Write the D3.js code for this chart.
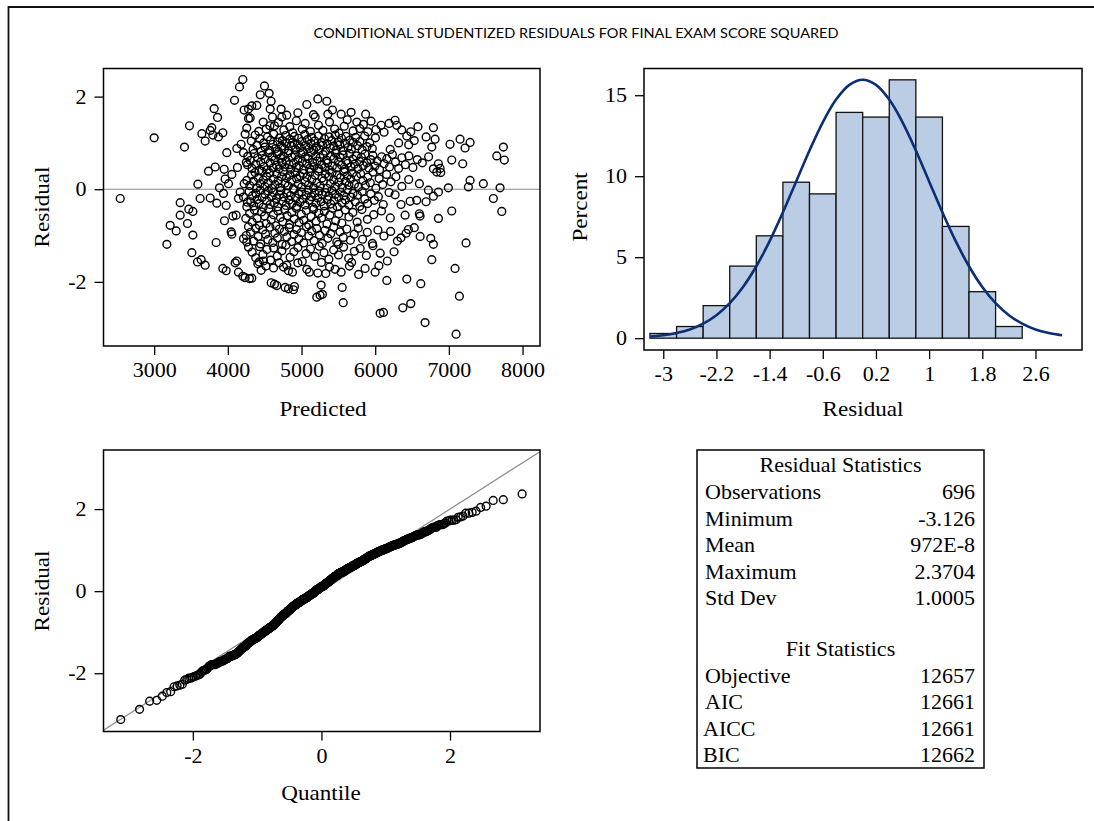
<!DOCTYPE html>
<html>
<head>
<meta charset="utf-8">
<script src="https://cdn.jsdelivr.net/npm/d3@7"></script>
<style>
  body { margin: 0; background: #fff; }
  text { font-family: "Liberation Serif", "Times New Roman", serif; fill: #000; }
</style>
</head>
<body>
<svg width="1094" height="821"></svg>
<script>
// ---- residual statistics table ----
var resLabels = ["Observations", "Minimum", "Mean", "Maximum", "Std Dev"];
var resValues = ["696", "-3.126", "972E-8", "2.3704", "1.0005"];
var fitLabels = ["Objective", "AIC", "AICC", "BIC"];
var fitValues = ["12657", "12661", "12661", "12662"];

// ---- histogram (bin width 0.4) ----
var binStart = [-3.2, -2.8, -2.4, -2.0, -1.6, -1.2, -0.8, -0.4, 0.0, 0.4, 0.8, 1.2, 1.6, 2.0];
var binPct = [0.29, 0.72, 2.01, 4.45, 6.32, 9.63, 8.91, 13.94, 13.65, 15.95, 13.65, 6.90, 2.87, 0.72];
var histTicks = [-3, -2.2, -1.4, -0.6, 0.2, 1, 1.8, 2.6];

// normal density curve (percent)
var curveX = [-3.2, -3.0, -2.8, -2.6, -2.4, -2.2, -2.0, -1.8, -1.6, -1.4, -1.2, -1.0, -0.8, -0.6, -0.4, -0.2, 0.0,
              0.2, 0.4, 0.6, 0.8, 1.0, 1.2, 1.4, 1.6, 1.8, 2.0, 2.2, 2.4, 2.6, 2.8, 3.0];
var curvePct = [0.10, 0.18, 0.32, 0.54, 0.90, 1.42, 2.16, 3.16, 4.44, 5.99, 7.77, 9.68, 11.59, 13.33, 14.73, 15.64, 15.96,
                15.64, 14.73, 13.33, 11.59, 9.68, 7.77, 5.99, 4.44, 3.16, 2.16, 1.42, 0.90, 0.54, 0.32, 0.18];

// ---- residual vs predicted, grouped by residual band ----
var band_2p0 = [[4203,2.37],[4158,2.21],[4497,2.23],[4560,2.07],[4440,2.04]];
var band_1p6 = [[4090,1.92],[3814,1.74],[4221,1.71],[4325,1.80],[4393,1.81],[4280,1.73],[4588,1.90],[4574,1.73],[4723,1.73],[5072,1.83],
  [5221,1.95],[5343,1.90],[5162,1.61],[5357,1.62],[5420,1.71],[5538,1.62],[5673,1.66],[4800,1.60],[4950,1.65],[5870,1.62]];
var band_1p2 = [[3860,1.55],[4280,1.53],[3479,1.37],[3782,1.33],[3760,1.27],[3932,1.22],[4257,1.32],[4605,1.56],[4633,1.37],[4303,1.54],
  [4570,1.37],[4687,1.44],[4732,1.56],[5185,1.56],[5750,1.45],[5840,1.40],[5944,1.47],[6080,1.38],[6189,1.42],[6270,1.49],
  [6293,1.38],[6790,1.33],[6483,1.24],[3647,1.20],[4420,1.25],[4480,1.45],[4520,1.30],[4760,1.28],[4840,1.35],[4880,1.22],
  [4930,1.48],[5010,1.30],[5050,1.42],[5120,1.25],[5230,1.38],[5290,1.27],[5380,1.45],[5450,1.30],[5510,1.21],[5580,1.36],
  [5620,1.50],[5700,1.26],[5790,1.31],[5900,1.24],[6010,1.29],[6120,1.23],[6360,1.28],[6580,1.35]];
var band_0p8 = [[3000,1.11],[3692,1.04],[3796,1.17],[3873,1.13],[4235,1.19],[4180,0.97],[4122,0.88],[3411,0.91],[6691,1.13],[6813,1.08],
  [6768,0.91],[7016,0.97],[7152,1.08],[7220,0.89],[7288,1.01],[7740,0.91],[6429,1.15],
  [4318,1.04],[4342,0.86],[4371,1.17],[4395,0.95],[4433,1.09],[4451,0.82],[4487,1.00],[4502,0.91],[4538,1.13],[4566,0.84],
  [4579,1.06],[4611,0.97],[4622,1.19],[4649,0.88],[4676,1.02],[4688,0.81],[4703,1.11],[4729,0.93],[4741,1.05],[4768,0.87],
  [4785,1.16],[4797,0.99],[4826,0.83],[4838,1.08],[4861,0.94],[4879,1.01],[4902,1.14],[4917,0.86],[4944,0.97],[4961,1.10],
  [4983,0.90],[5006,1.03],[5019,0.81],[5044,1.18],[5058,0.95],[5081,1.07],[5103,0.88],[5126,0.99],[5139,1.12],[5167,0.84],
  [5181,1.04],[5204,0.92],[5229,1.15],[5242,0.86],[5268,1.01],[5286,0.95],[5311,1.09],[5327,0.82],[5349,0.98],[5374,1.13],
  [5391,0.89],[5412,1.05],[5436,0.93],[5458,1.17],[5471,0.85],[5497,1.02],[5519,0.96],[5542,1.10],[5563,0.83],[5587,0.99],
  [5604,1.14],[5631,0.90],[5655,1.06],[5678,0.87],[5702,1.01],[5734,1.12],[5761,0.94],[5792,1.03],[5823,0.85],[5857,1.15],
  [5889,0.92],[5926,1.00],[5961,0.88],[6003,1.11],[6455,0.96],[6530,1.05],[6204,0.86],[6318,1.00]];
var band_0p4 = [[4212,0.79],[3986,0.79],[4266,0.53],[4130,0.47],[3828,0.48],[3950,0.43],[7039,0.63],[7188,0.55],[6858,0.55],[6881,0.45],
  [7650,0.72],[7753,0.63],
  [4305,0.62],[4328,0.45],[4356,0.77],[4379,0.54],[4404,0.68],[4425,0.41],[4447,0.59],[4468,0.73],[4490,0.49],[4509,0.65],
  [4533,0.42],[4551,0.79],[4574,0.57],[4596,0.70],[4613,0.46],[4637,0.63],[4659,0.52],[4671,0.76],[4695,0.44],[4718,0.67],
  [4736,0.58],[4752,0.71],[4774,0.48],[4793,0.61],[4815,0.78],[4832,0.53],[4854,0.43],[4870,0.69],[4893,0.56],[4911,0.74],
  [4929,0.47],[4951,0.64],[4968,0.51],[4990,0.77],[5011,0.60],[5028,0.42],[5052,0.70],[5070,0.55],[5091,0.66],[5110,0.45],
  [5131,0.79],[5150,0.58],[5172,0.49],[5193,0.72],[5211,0.61],[5235,0.44],[5252,0.68],[5274,0.53],[5293,0.75],[5316,0.47],
  [5335,0.63],[5356,0.57],[5378,0.41],[5395,0.71],[5419,0.50],[5440,0.66],[5461,0.78],[5479,0.46],[5502,0.59],[5524,0.69],
  [5545,0.52],[5566,0.74],[5589,0.43],[5608,0.62],[5630,0.56],[5653,0.77],[5671,0.48],[5697,0.65],[5718,0.54],[5742,0.72],
  [5765,0.44],[5789,0.60],[5812,0.69],[5838,0.51],[5861,0.76],[5887,0.57],[5914,0.46],[5940,0.64],[5969,0.73],[5996,0.50],
  [6027,0.61],[6059,0.42],[6088,0.70],[6121,0.55],[6158,0.66],[6194,0.48],[6233,0.75],[6275,0.59],[6318,0.45],[6362,0.68],
  [6410,0.53],[6457,0.72],[6512,0.47],[6571,0.64],[6640,0.57],[6725,0.70],[6790,0.44],[4270,0.71],[4251,0.58]];
var band_0p0 = [[4054,0.32],[3963,0.22],[3737,0.39],[3593,0.11],[3886,0.03],[4009,0.12],[4221,0.12],[4257,0.19],[6890,0.36],[6836,0.37],
  [7288,0.19],[7265,0.05],[7468,0.12],[7695,0.03],[6993,0.03],[6600,0.12],
  [4298,0.08],[4322,0.31],[4347,0.17],[4369,0.36],[4391,0.03],[4414,0.24],[4438,0.12],[4459,0.39],[4481,0.20],[4503,0.06],
  [4526,0.28],[4549,0.14],[4570,0.35],[4594,0.02],[4617,0.22],[4640,0.10],[4662,0.33],[4684,0.18],[4707,0.04],[4729,0.27],
  [4752,0.38],[4775,0.13],[4797,0.25],[4820,0.07],[4843,0.31],[4866,0.19],[4888,0.01],[4911,0.36],[4934,0.23],[4957,0.11],
  [4980,0.29],[5003,0.05],[5025,0.34],[5048,0.16],[5071,0.26],[5094,0.09],[5117,0.37],[5140,0.21],[5162,0.03],[5185,0.30],
  [5208,0.14],[5231,0.39],[5254,0.07],[5277,0.24],[5300,0.18],[5322,0.33],[5345,0.02],[5368,0.27],[5391,0.12],[5414,0.36],
  [5437,0.20],[5460,0.06],[5483,0.31],[5506,0.15],[5529,0.25],[5552,0.04],[5575,0.38],[5598,0.17],[5621,0.29],[5644,0.09],
  [5668,0.22],[5693,0.35],[5719,0.11],[5746,0.28],[5774,0.05],[5803,0.33],[5833,0.19],[5865,0.08],[5898,0.26],[5933,0.14],
  [5970,0.37],[6010,0.02],[6054,0.23],[6102,0.10],[6155,0.32],[6214,0.16],[6281,0.27],[6362,0.06],[6455,0.21]];
var band_m0p4 = [[2539,-0.20],[3353,-0.29],[3624,-0.20],[3760,-0.19],[3850,-0.30],[3941,-0.09],[4167,-0.06],[4212,-0.17],[4144,-0.20],[3977,-0.35],
  [4257,-0.38],[6858,-0.06],[6722,-0.02],[6474,-0.26],[6564,-0.24],[6691,-0.27],[6790,-0.15],[7604,-0.20],
  [4289,-0.05],[4311,-0.27],[4336,-0.14],[4352,-0.36],[4380,-0.09],[4397,-0.22],[4423,-0.31],[4440,-0.02],[4466,-0.18],[4479,-0.39],
  [4505,-0.11],[4527,-0.25],[4548,-0.04],[4575,-0.33],[4590,-0.16],[4618,-0.07],[4633,-0.29],[4661,-0.20],[4675,-0.38],[4701,-0.12],
  [4719,-0.03],[4746,-0.26],[4760,-0.17],[4789,-0.35],[4805,-0.08],[4831,-0.23],[4849,-0.14],[4874,-0.31],[4895,-0.01],[4917,-0.19],
  [4938,-0.37],[4962,-0.10],[4979,-0.28],[5004,-0.06],[5022,-0.21],[5049,-0.34],[5063,-0.13],[5092,-0.02],[5108,-0.24],[5134,-0.16],
  [5151,-0.39],[5177,-0.08],[5195,-0.30],[5220,-0.19],[5238,-0.04],[5265,-0.27],[5281,-0.12],[5308,-0.36],[5326,-0.07],[5351,-0.22],
  [5369,-0.15],[5396,-0.32],[5413,-0.03],[5440,-0.25],[5458,-0.11],[5485,-0.38],[5503,-0.18],[5529,-0.06],[5550,-0.29],[5574,-0.14],
  [5596,-0.23],[5621,-0.01],[5645,-0.34],[5672,-0.17],[5699,-0.09],[5729,-0.27],[5758,-0.13],[5790,-0.37],[5823,-0.05],[5858,-0.21],
  [5897,-0.31],[5940,-0.10],[5988,-0.24],[6043,-0.16],[6109,-0.33],[6188,-0.07],[6270,-0.12],[4265,-0.28],[6350,-0.33]];
var band_m0p8 = [[3470,-0.43],[3525,-0.48],[3353,-0.56],[3217,-0.78],[3452,-0.74],[3954,-0.68],[4068,-0.58],[4113,-0.56],[4244,-0.63],[7039,-0.47],
  [7718,-0.48],[6600,-0.53],[6609,-0.58],[6406,-0.56],[6858,-0.63],
  [4296,-0.52],[4330,-0.71],[4361,-0.45],[4398,-0.63],[4429,-0.78],[4458,-0.49],[4497,-0.58],[4521,-0.74],[4556,-0.42],[4588,-0.66],
  [4619,-0.55],[4652,-0.79],[4680,-0.47],[4713,-0.61],[4745,-0.70],[4771,-0.44],[4806,-0.57],[4838,-0.76],[4867,-0.50],[4901,-0.64],
  [4930,-0.41],[4966,-0.72],[4997,-0.54],[5031,-0.67],[5064,-0.46],[5098,-0.77],[5129,-0.59],[5165,-0.43],[5199,-0.69],[5236,-0.52],
  [5271,-0.62],[5309,-0.48],[5345,-0.75],[5384,-0.56],[5422,-0.41],[5463,-0.68],[5505,-0.53],[5548,-0.73],[5594,-0.45],[5643,-0.60],
  [5697,-0.50],[5755,-0.71],[5820,-0.44],[5894,-0.65],[5980,-0.55],[6085,-0.47],[6205,-0.62]];
var band_m1p2 = [[3299,-0.90],[3172,-1.19],[3525,-0.99],[3841,-1.15],[4045,-0.92],[4054,-0.97],[4212,-1.07],[4257,-1.14],[4280,-0.81],[7233,-1.16],
  [6754,-1.06],[6790,-1.19],[6301,-1.12],[6451,-0.87],
  [4308,-0.93],[4349,-1.12],[4377,-0.84],[4412,-1.02],[4446,-1.18],[4474,-0.88],[4511,-0.97],[4543,-1.09],[4572,-0.82],[4609,-1.15],
  [4638,-0.95],[4672,-1.05],[4700,-0.86],[4737,-1.19],[4766,-0.91],[4801,-1.03],[4833,-0.83],[4866,-1.13],[4897,-0.98],[4932,-0.87],
  [4963,-1.07],[4998,-0.94],[5030,-1.16],[5066,-0.81],[5099,-1.01],[5136,-0.90],[5170,-1.11],[5207,-0.85],[5243,-0.99],[5281,-1.17],
  [5318,-0.89],[5357,-1.06],[5396,-0.96],[5437,-0.82],[5479,-1.14],[5522,-0.92],[5567,-1.04],[5614,-0.86],[5663,-1.10],[5715,-0.97],
  [5770,-0.84],[5829,-1.08],[5893,-0.93],[5962,-1.17],[6037,-0.88],[6118,-1.01],[6210,-0.91],[6350,-1.05],[6420,-0.95],[6530,-0.83],
  [6610,-1.02],[5500,-1.19],[4250,-1.00]];
var band_m1p6 = [[4280,-1.25],[3511,-1.37],[3588,-1.57],[3638,-1.52],[4122,-1.55],[4099,-1.59],[4425,-1.57],[4484,-1.55],[4696,-1.59],[6768,-1.52],
  [6256,-1.35],
  [4330,-1.36],[4378,-1.48],[4431,-1.24],[4476,-1.41],[4530,-1.30],[4579,-1.53],[4622,-1.27],[4671,-1.44],[4733,-1.33],[4788,-1.21],
  [4845,-1.47],[4896,-1.35],[4951,-1.26],[5010,-1.56],[5062,-1.39],[5121,-1.29],[5183,-1.45],[5240,-1.23],[5305,-1.37],[5371,-1.51],
  [5436,-1.31],[5502,-1.42],[5571,-1.25],[5640,-1.49],[5717,-1.34],[5796,-1.28],[5880,-1.43],[5969,-1.22],[6068,-1.38],[6165,-1.55],
  [5270,-1.58],[4950,-1.59],[5680,-1.58]];
var band_m2p0 = [[3692,-1.64],[3932,-1.71],[3977,-1.76],[4144,-1.79],[4203,-1.88],[4293,-1.93],[4325,-1.92],[4235,-1.91],[4452,-1.75],[4407,-1.61],
  [4516,-1.66],[4755,-1.68],[4800,-1.64],[4823,-1.76],[4877,-1.79],[5072,-1.73],[5107,-1.79],[5221,-1.81],[5329,-1.82],[5456,-1.73],
  [5538,-1.79],[5775,-1.84],[5863,-1.71],[5999,-1.79],[6158,-1.97],[6429,-1.94],[7084,-1.71],[5650,-1.66],[6050,-1.65],[4620,-1.70],
  [5380,-1.68]];
var band_m2p4 = [[4588,-2.02],[4633,-2.05],[4665,-2.08],[4777,-2.12],[4823,-2.15],[4890,-2.17],[4904,-2.10],[5207,-2.33],[5252,-2.29],[5284,-2.27],
  [5266,-2.07],[5552,-2.12],[6619,-2.04],[7143,-2.31]];
var band_m2p8 = [[5566,-2.45],[6067,-2.68],[6112,-2.66],[6375,-2.56],[6483,-2.47]];
var band_m3p2 = [[6677,-2.88],[7098,-3.13]];

var scatterXTicks = [3000, 4000, 5000, 6000, 7000, 8000];
var residTicks = [-2, 0, 2];
var quantTicks = [-2, 0, 2];
var pctTicks = [0, 5, 10, 15];

var points = [].concat(band_2p0, band_1p6, band_1p2, band_0p8, band_0p4, band_0p0,
  band_m0p4, band_m0p8, band_m1p2, band_m1p6, band_m2p0, band_m2p4, band_m2p8, band_m3p2);

var svg = d3.select("svg");
var SX = 1.1; // the original text is slightly wide
var dotR = 3.9;

// inverse normal cdf (Acklam) for the Q-Q plot quantiles
function invNorm(p) {
  var a = [-3.969683028665376e+01, 2.209460984245205e+02, -2.759285104469687e+02, 1.383577518672690e+02, -3.066479806614716e+01, 2.506628277459239e+00];
  var b = [-5.447609879822406e+01, 1.615858368580409e+02, -1.556989798598866e+02, 6.680131188771972e+01, -1.328068155288572e+01];
  var c = [-7.784894002430293e-03, -3.223964580411365e-01, -2.400758277161838e+00, -2.549732539343734e+00, 4.374664141464968e+00, 2.938163982698783e+00];
  var d = [7.784695709041462e-03, 3.224671290700398e-01, 2.445134137142996e+00, 3.754408661907416e+00];
  var q, r;
  if (p < 0.02425) {
    q = Math.sqrt(-2 * Math.log(p));
    return (((((c[0]*q+c[1])*q+c[2])*q+c[3])*q+c[4])*q+c[5]) / ((((d[0]*q+d[1])*q+d[2])*q+d[3])*q+1);
  }
  if (p > 1 - 0.02425) {
    q = Math.sqrt(-2 * Math.log(1 - p));
    return -(((((c[0]*q+c[1])*q+c[2])*q+c[3])*q+c[4])*q+c[5]) / ((((d[0]*q+d[1])*q+d[2])*q+d[3])*q+1);
  }
  q = p - 0.5; r = q * q;
  return (((((a[0]*r+a[1])*r+a[2])*r+a[3])*r+a[4])*r+a[5])*q / (((((b[0]*r+b[1])*r+b[2])*r+b[3])*r+b[4])*r+1);
}

function styleAxis(g, left) {
  g.select(".domain").remove();
  g.selectAll(".tick line").attr("stroke", "#000").attr("stroke-width", 1.3);
  var t = g.selectAll(".tick text")
    .attr("font-family", "'Liberation Serif', 'Times New Roman', serif")
    .attr("font-size", 20)
    .attr("fill", "#000")
    .attr("transform", "scale(" + SX + ",1)");
  if (left) t.attr("x", -17 / SX);
  g.attr("font-family", null).attr("font-size", null);
}

function frame(b) {
  svg.append("rect")
    .attr("x", b.left).attr("y", b.top)
    .attr("width", b.right - b.left).attr("height", b.bottom - b.top)
    .attr("fill", "none").attr("stroke", "#000").attr("stroke-width", 1.5);
}

function label(x, y, txt, size, anchor, rotate) {
  svg.append("text")
    .attr("transform", "translate(" + x + "," + y + ")" + (rotate ? " rotate(-90)" : "") + " scale(" + SX + ",1)")
    .attr("text-anchor", anchor || "start")
    .attr("font-size", size)
    .text(txt);
}

// page frame
svg.append("line").attr("x1", 8).attr("x2", 1094).attr("y1", 7).attr("y2", 7)
  .attr("stroke", "#111").attr("stroke-width", 1.8);
svg.append("line").attr("x1", 8.5).attr("x2", 8.5).attr("y1", 6).attr("y2", 821)
  .attr("stroke", "#111").attr("stroke-width", 1.8);

svg.append("text")
  .attr("x", 576).attr("y", 38)
  .attr("text-anchor", "middle")
  .style("font-family", "Lato, 'Open Sans', sans-serif")
  .attr("font-size", 13)
  .attr("textLength", 525)
  .attr("lengthAdjust", "spacingAndGlyphs")
  .text("CONDITIONAL STUDENTIZED RESIDUALS FOR FINAL EXAM SCORE SQUARED");

// ---- panel 1: residual vs predicted ----
var p1 = {left: 103.5, right: 540, top: 68.5, bottom: 346};
var x1 = d3.scaleLinear().domain([2312, 8237]).range([p1.left, p1.right]);
var y1 = d3.scaleLinear().domain([-3.385, 2.607]).range([p1.bottom, p1.top]);

svg.append("line")
  .attr("x1", p1.left).attr("x2", p1.right)
  .attr("y1", y1(0)).attr("y2", y1(0))
  .attr("stroke", "#8a8a8a").attr("stroke-width", 1.2);

svg.append("g").selectAll("circle")
  .data(points)
  .enter().append("circle")
    .attr("cx", function(d) { return x1(d[0]); })
    .attr("cy", function(d) { return y1(d[1]); })
    .attr("r", dotR)
    .attr("fill", "none").attr("stroke", "#000").attr("stroke-width", 1.4);

frame(p1);
svg.append("g").attr("transform", "translate(0," + p1.bottom + ")")
  .call(d3.axisBottom(x1).tickValues(scatterXTicks).tickSize(9).tickPadding(8).tickFormat(String))
  .call(styleAxis, false);
svg.append("g").attr("transform", "translate(" + p1.left + ",0)")
  .call(d3.axisLeft(y1).tickValues(residTicks).tickSize(9).tickPadding(8).tickFormat(String))
  .call(styleAxis, true);
label(323, 416, "Predicted", 21, "middle");
label(49, 207, "Residual", 21, "middle", true);

// ---- panel 2: histogram ----
var p2 = {left: 644, right: 1082, top: 68.5, bottom: 350};
var x2 = d3.scaleLinear().domain([-3.29, 3.30]).range([p2.left, p2.right]);
var y2 = d3.scaleLinear().domain([-0.73, 16.65]).range([p2.bottom, p2.top]);

svg.append("g").selectAll("rect")
  .data(binPct)
  .enter().append("rect")
    .attr("x", function(d, i) { return x2(binStart[i]); })
    .attr("width", function(d, i) { return x2(binStart[i] + 0.4) - x2(binStart[i]); })
    .attr("y", function(d) { return y2(d); })
    .attr("height", function(d) { return y2(0) - y2(d); })
    .attr("fill", "#bacde4").attr("stroke", "#111").attr("stroke-width", 1.3);

var curve = d3.line()
  .x(function(d, i) { return x2(curveX[i]); })
  .y(function(d) { return y2(d); })
  .curve(d3.curveCatmullRom);
svg.append("path")
  .attr("d", curve(curvePct))
  .attr("fill", "none").attr("stroke", "#0c2e74").attr("stroke-width", 2.6);

frame(p2);
svg.append("g").attr("transform", "translate(0," + p2.bottom + ")")
  .call(d3.axisBottom(x2).tickValues(histTicks).tickSize(9).tickPadding(8).tickFormat(String))
  .call(styleAxis, false);
svg.append("g").attr("transform", "translate(" + p2.left + ",0)")
  .call(d3.axisLeft(y2).tickValues(pctTicks).tickSize(9).tickPadding(8).tickFormat(String))
  .call(styleAxis, true);
label(863, 416, "Residual", 21, "middle");
label(587, 207, "Percent", 21, "middle", true);

// ---- panel 3: Q-Q plot ----
var p3 = {left: 103.5, right: 540, top: 450, bottom: 731.5};
var x3 = d3.scaleLinear().domain([-3.39, 3.40]).range([p3.left, p3.right]);
var y3 = d3.scaleLinear().domain([-3.42, 3.44]).range([p3.bottom, p3.top]);

var sorted = points.map(function(d) { return d[1]; }).sort(d3.ascending);
var n = sorted.length;
var qq = sorted.map(function(v, i) { return [invNorm((i + 1 - 0.375) / (n + 0.25)), v]; });

svg.append("line")
  .attr("x1", x3(-3.39)).attr("y1", y3(-3.39))
  .attr("x2", x3(3.40)).attr("y2", y3(3.40))
  .attr("stroke", "#8a8a8a").attr("stroke-width", 1.2);

svg.append("g").selectAll("circle")
  .data(qq)
  .enter().append("circle")
    .attr("cx", function(d) { return x3(d[0]); })
    .attr("cy", function(d) { return y3(d[1]); })
    .attr("r", dotR)
    .attr("fill", "none").attr("stroke", "#000").attr("stroke-width", 1.4);

frame(p3);
svg.append("g").attr("transform", "translate(0," + p3.bottom + ")")
  .call(d3.axisBottom(x3).tickValues(quantTicks).tickSize(9).tickPadding(8).tickFormat(String))
  .call(styleAxis, false);
svg.append("g").attr("transform", "translate(" + p3.left + ",0)")
  .call(d3.axisLeft(y3).tickValues(residTicks).tickSize(9).tickPadding(8).tickFormat(String))
  .call(styleAxis, true);
label(321, 800, "Quantile", 21, "middle");
label(49, 591, "Residual", 21, "middle", true);

// ---- panel 4: statistics table ----
var tb = {left: 697, right: 984, top: 450, bottom: 768};
frame(tb);
var rowH = 26.5;
var mid = (tb.left + tb.right) / 2;
label(mid, 472, "Residual Statistics", 20, "middle");
resLabels.forEach(function(l, i) {
  label(705, 499 + i * rowH, l, 20, "start");
  label(975, 499 + i * rowH, resValues[i], 20, "end");
});
label(mid, 656, "Fit Statistics", 20, "middle");
fitLabels.forEach(function(l, i) {
  label(i < 2 ? 705 : 703, 682.5 + i * rowH, l, 20, "start");
  label(975, 682.5 + i * rowH, fitValues[i], 20, "end");
});
</script>
</body>
</html>
